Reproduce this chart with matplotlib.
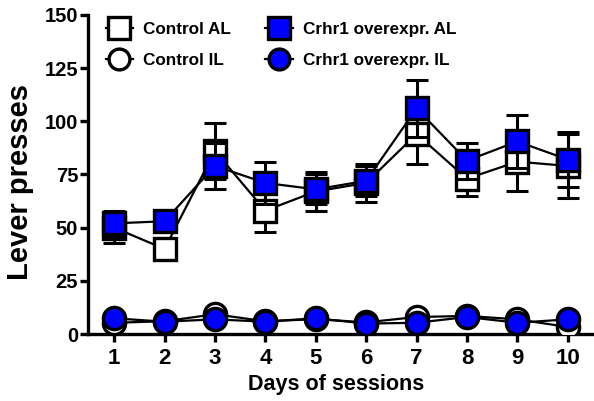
import matplotlib
matplotlib.use("Agg")
import matplotlib.pyplot as plt
from matplotlib.lines import Line2D

plt.rcParams['font.family'] = ['Liberation Sans', 'DejaVu Sans']
plt.rcParams['font.weight'] = 'bold'

days = [1, 2, 3, 4, 5, 6, 7, 8, 9, 10]

ctrl_al = [50, 40, 86, 58, 67, 71, 94, 73, 81, 79]
ctrl_al_err = [7, 4, 13, 10, 9, 9, 14, 8, 14, 15]
crhr_al = [52, 53, 79, 71, 68, 72, 106, 81.5, 90.5, 82]
crhr_al_err = [6, 3, 11, 10, 7, 7, 13.5, 8.5, 12.5, 13]

ctrl_il = [5.3, 6, 9.3, 6, 7, 5.5, 8, 8.5, 6.9, 3.3]
ctrl_il_err = [1, 1, 1.5, 1, 1, 1, 1.5, 1, 1, 1]
crhr_il = [7.4, 5.8, 6.9, 5.8, 7.4, 4.9, 5.3, 8, 5.3, 6.9]
crhr_il_err = [1, 1, 1, 1, 1, 1, 1, 1, 1, 1]

labels = ["Control AL", "Control IL", "Crhr1 overexpr. AL", "Crhr1 overexpr. IL"]

BLUE = "#0000ff"
EDGE_W = 2.4
MS_SQ = 16.5
MS_CI = 16

fig = plt.figure(figsize=(5.94, 4.01), dpi=100)
ax = fig.add_axes([0.148, 0.167, 0.852, 0.796])

series = [
    (ctrl_al, ctrl_al_err, "s", "white", MS_SQ, 3),
    (crhr_al, crhr_al_err, "s", BLUE, MS_SQ, 4),
    (ctrl_il, ctrl_il_err, "o", "white", MS_CI, 5),
    (crhr_il, crhr_il_err, "o", BLUE, MS_CI, 6),
]
for vals, errs, mk, fc, ms, z in series:
    ax.errorbar(days, vals, yerr=errs, fmt="-", color="black", lw=1.6,
                elinewidth=2.2, capsize=8, capthick=2.2, zorder=z)
    ax.plot(days, vals, linestyle="none", marker=mk, ms=ms, mfc=fc,
            mec="black", mew=EDGE_W, zorder=z + 0.5)

ax.set_xlim(0.48, 10.52)
ax.set_ylim(0, 150)
ax.set_xticks(days)
ax.set_yticks([0, 25, 50, 75, 100, 125, 150])

for side in ("top", "right"):
    ax.spines[side].set_visible(False)
for side in ("left", "bottom"):
    ax.spines[side].set_linewidth(2.4)
ax.spines["bottom"].set_zorder(1)

ax.tick_params(axis="both", direction="out", length=6, width=2.4, color="black")
ax.tick_params(axis="x", labelsize=16, pad=4)
ax.tick_params(axis="y", labelsize=14.5, pad=1)
for t in ax.get_xticklabels() + ax.get_yticklabels():
    t.set_fontweight("bold")

ax.set_xlabel("Days of sessions", fontsize=15.5, fontweight="bold")
ax.set_ylabel("Lever presses", fontsize=21, fontweight="bold")
ax.xaxis.set_label_coords(0.49, -0.125)
ax.yaxis.set_label_coords(-0.106, 0.475)

handles = [
    Line2D([], [], color="black", lw=1.6, marker="s", ms=MS_SQ - 1, mfc="white", mec="black", mew=EDGE_W),
    Line2D([], [], color="black", lw=1.6, marker="o", ms=MS_CI - 1, mfc="white", mec="black", mew=EDGE_W),
    Line2D([], [], color="black", lw=1.6, marker="s", ms=MS_SQ - 1, mfc=BLUE, mec="black", mew=EDGE_W),
    Line2D([], [], color="black", lw=1.6, marker="o", ms=MS_CI - 1, mfc=BLUE, mec="black", mew=EDGE_W),
]
leg = ax.legend(handles, labels, ncol=2, loc="upper left",
                bbox_to_anchor=(0.005, 1.025), frameon=False,
                prop={"weight": "bold", "size": 12.3},
                handlelength=1.6, handletextpad=0.6, columnspacing=2.0,
                labelspacing=0.9)

fig.savefig("out.png", dpi=100)
